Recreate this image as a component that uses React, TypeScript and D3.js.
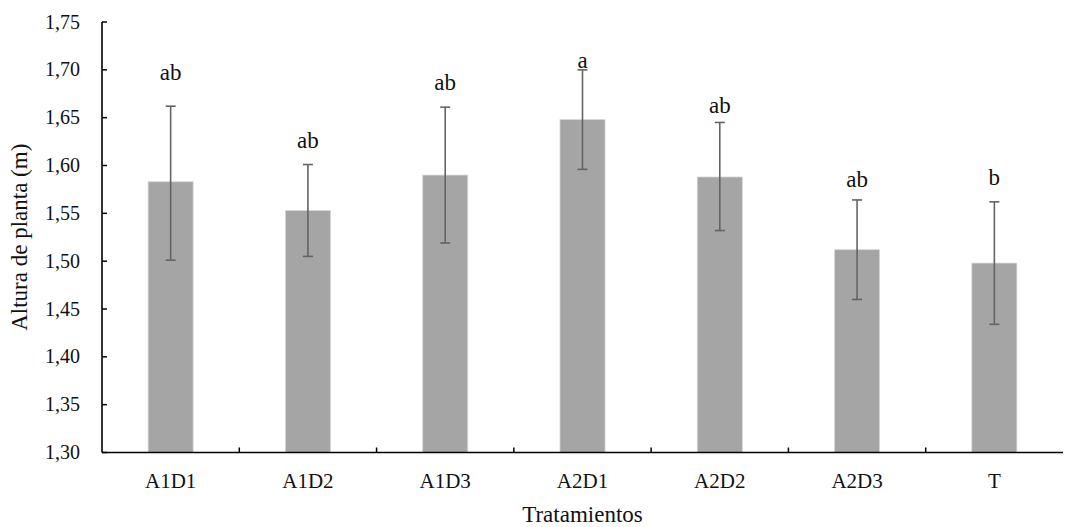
import React from "react";
import * as d3 from "d3";

const WIDTH = 1065;
const HEIGHT = 527;
const MARGIN = { top: 22, right: 2, bottom: 74.5, left: 102 };

const treatments = ["A1D1", "A1D2", "A1D3", "A2D1", "A2D2", "A2D3", "T"];
const means = [1.583, 1.553, 1.59, 1.648, 1.588, 1.512, 1.498];
const errHigh = [1.662, 1.601, 1.661, 1.7, 1.645, 1.564, 1.562];
const errLow = [1.501, 1.505, 1.519, 1.596, 1.532, 1.46, 1.434];
const letters = ["ab", "ab", "ab", "a", "ab", "ab", "b"];
const letterY = [1.689, 1.618, 1.679, 1.702, 1.655, 1.578, 1.58];
const yTicks = [1.3, 1.35, 1.4, 1.45, 1.5, 1.55, 1.6, 1.65, 1.7, 1.75];

const FONT = "'Liberation Serif', 'Times New Roman', serif";

const App = () => {
  const innerW = WIDTH - MARGIN.left - MARGIN.right;
  const innerH = HEIGHT - MARGIN.top - MARGIN.bottom;

  const x = d3
    .scaleBand<string>()
    .domain(treatments)
    .range([0, innerW])
    .paddingInner(0.672)
    .paddingOuter(0.336);

  const y = d3.scaleLinear().domain([1.3, 1.75]).range([innerH, 0]);
  const fmt = (v: number) => d3.format(".2f")(v).replace(".", ",");

  const step = x.step();
  const capHalf = 5;

  return (
    <svg
      width={WIDTH}
      height={HEIGHT}
      style={{ position: "absolute", left: 0, top: 0, background: "#fff" }}
      fontFamily={FONT}
    >
      <g transform={`translate(${MARGIN.left},${MARGIN.top})`}>
        {/* bars */}
        {treatments.map((t, i) => (
          <rect
            key={t}
            x={x(t)}
            y={y(means[i])}
            width={x.bandwidth()}
            height={innerH - y(means[i])}
            fill="#a5a5a5"
            stroke="#d6d6d6"
            strokeWidth={0.8}
          />
        ))}

        {/* error bars */}
        {treatments.map((t, i) => {
          const cx = (x(t) ?? 0) + x.bandwidth() / 2;
          return (
            <g key={t} stroke="#646464" strokeWidth={1.6}>
              <line x1={cx} x2={cx} y1={y(errHigh[i])} y2={y(errLow[i])} />
              <line x1={cx - capHalf} x2={cx + capHalf} y1={y(errHigh[i])} y2={y(errHigh[i])} />
              <line x1={cx - capHalf} x2={cx + capHalf} y1={y(errLow[i])} y2={y(errLow[i])} />
            </g>
          );
        })}

        {/* significance letters */}
        {treatments.map((t, i) => (
          <text
            key={t}
            x={(x(t) ?? 0) + x.bandwidth() / 2}
            y={y(letterY[i])}
            textAnchor="middle"
            fontSize={23}
            fill="#111"
          >
            {letters[i]}
          </text>
        ))}

        {/* y axis */}
        <line x1={0} x2={0} y1={0} y2={innerH} stroke="#000" strokeWidth={1.6} />
        {yTicks.map((v) => (
          <g key={v} transform={`translate(0,${y(v)})`}>
            <line x1={0} x2={5} stroke="#000" strokeWidth={1.5} />
            <text x={-22} dy="0.33em" textAnchor="end" fontSize={20} fill="#111">
              {fmt(v)}
            </text>
          </g>
        ))}

        {/* x axis */}
        <line x1={0} x2={innerW} y1={innerH} y2={innerH} stroke="#000" strokeWidth={1.6} />
        {treatments.slice(1).map((t) => (
          <line
            key={t}
            x1={(x(t) ?? 0) + x.bandwidth() / 2 - step / 2}
            x2={(x(t) ?? 0) + x.bandwidth() / 2 - step / 2}
            y1={innerH}
            y2={innerH - 5}
            stroke="#000"
            strokeWidth={1.5}
          />
        ))}
        {treatments.map((t) => (
          <text
            key={t}
            x={(x(t) ?? 0) + x.bandwidth() / 2}
            y={innerH + 35}
            textAnchor="middle"
            fontSize={21}
            fill="#111"
          >
            {t}
          </text>
        ))}

        {/* axis titles */}
        <text
          x={innerW / 2}
          y={innerH + 69}
          textAnchor="middle"
          fontSize={23}
          fill="#111"
        >
          Tratamientos
        </text>
        <text
          transform={`translate(${-MARGIN.left + 27},${innerH / 2}) rotate(-90)`}
          textAnchor="middle"
          fontSize={23}
          fill="#111"
        >
          Altura de planta (m)
        </text>
      </g>
    </svg>
  );
};

export default App;
